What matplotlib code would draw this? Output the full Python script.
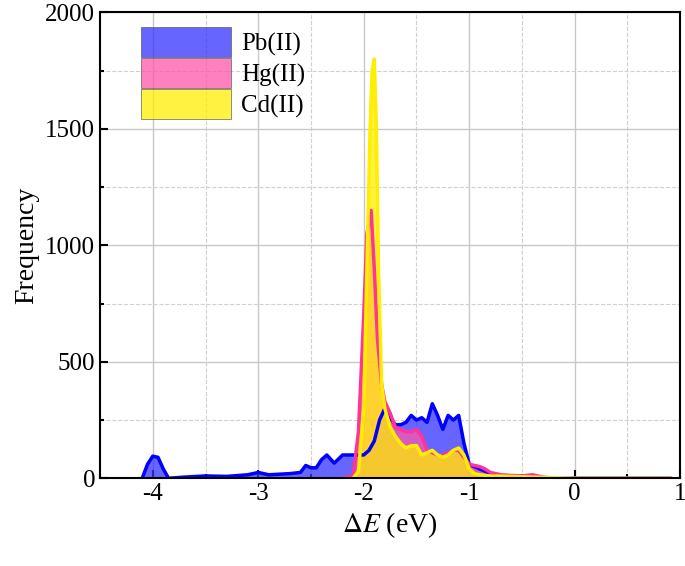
import matplotlib
matplotlib.use("Agg")
import matplotlib.pyplot as plt
from matplotlib.ticker import MultipleLocator

plt.rcParams["font.family"] = "Liberation Serif"
plt.rcParams["font.size"] = 18
plt.rcParams["axes.unicode_minus"] = False
plt.rcParams["mathtext.fontset"] = "stix"

pb_x = [-4.1,-4.05,-4.0,-3.95,-3.9,-3.85,-3.7,-3.5,-3.3,-3.1,-3.0,-2.9,-2.7,-2.6,-2.55,-2.5,-2.45,-2.4,-2.35,-2.28,-2.2,-2.1,-2.0,-1.95,-1.9,-1.85,-1.8,-1.75,-1.7,-1.65,-1.6,-1.55,-1.5,-1.45,-1.4,-1.35,-1.3,-1.25,-1.2,-1.15,-1.1,-1.05,-1.0,-0.95,-0.9,-0.85,-0.8,-0.75,-0.7,-0.5,0.0,0.5,0.9]
pb_y = [0,60,95,90,40,0,5,10,8,15,25,15,20,25,55,45,45,80,100,65,100,100,100,120,160,250,300,260,230,230,240,270,250,260,240,320,270,210,270,250,270,150,60,50,40,30,20,8,3,0,0,0,0]
hg_x = [-2.2,-2.1,-2.05,-2.0,-1.97,-1.93,-1.9,-1.87,-1.83,-1.8,-1.75,-1.7,-1.65,-1.6,-1.55,-1.5,-1.45,-1.4,-1.35,-1.3,-1.25,-1.2,-1.15,-1.1,-1.05,-1.0,-0.95,-0.9,-0.85,-0.8,-0.7,-0.6,-0.5,-0.4,-0.3,-0.2,0.0,0.9]
hg_y = [0,10,200,700,1050,1150,900,600,400,330,280,220,210,200,200,210,180,120,110,100,100,110,120,120,90,60,55,50,40,25,15,12,10,15,5,0,0,0]
cd_x = [-2.1,-2.05,-2.0,-1.97,-1.94,-1.92,-1.9,-1.88,-1.86,-1.83,-1.8,-1.75,-1.7,-1.65,-1.6,-1.55,-1.5,-1.45,-1.4,-1.35,-1.3,-1.25,-1.2,-1.15,-1.1,-1.05,-1.0,-0.95,-0.9,-0.8,-0.6,-0.4,-0.2,0.0,0.9]
cd_y = [0,30,300,900,1500,1750,1800,1500,900,400,300,220,180,150,130,140,140,100,110,120,100,90,100,120,130,100,40,20,15,10,8,5,3,0,0]

fig = plt.figure(figsize=(6.85, 5.66), dpi=100)
ax = fig.add_axes([0.146, 0.155, 0.847, 0.823])

ax.grid(True, which="major", color="#c8c8c8", lw=1)
ax.grid(True, which="minor", color="#d0d0d0", lw=0.8, ls="--")
ax.set_axisbelow(True)

series = [("Pb(II)", pb_x, pb_y, "#3333ff", "#0000ff"),
          ("Hg(II)", hg_x, hg_y, "#ff55aa", "#ff3399"),
          ("Cd(II)", cd_x, cd_y, "#ffee00", "#ffee00")]
for name, x, y, fc, lc in series:
    ax.fill_between(x, y, facecolor=fc, alpha=0.75, edgecolor="#555555", lw=0.6, label=name)
    ax.plot(x, y, color=lc, lw=2.5, solid_joinstyle="round")

ax.set_xlim(-4.5, 1)
ax.set_ylim(0, 2000)
ax.xaxis.set_major_locator(MultipleLocator(1))
ax.xaxis.set_minor_locator(MultipleLocator(0.5))
ax.yaxis.set_major_locator(MultipleLocator(500))
ax.yaxis.set_minor_locator(MultipleLocator(250))
ax.tick_params(which="both", direction="in", width=1.5)
ax.tick_params(which="major", length=6)
ax.tick_params(which="minor", length=3)
for s in ax.spines.values():
    s.set_linewidth(1.5)
ax.set_xlabel(r"$\Delta E$ (eV)", fontsize=20)
ax.set_ylabel("Frequency", fontsize=20)
ax.legend(loc="upper left", bbox_to_anchor=(0.045, 1.0), frameon=False,
          handlelength=3.6, handleheight=1.45, labelspacing=0.05,
          handletextpad=0.4, fontsize=18, borderaxespad=0.2)
fig.savefig("out.png")
